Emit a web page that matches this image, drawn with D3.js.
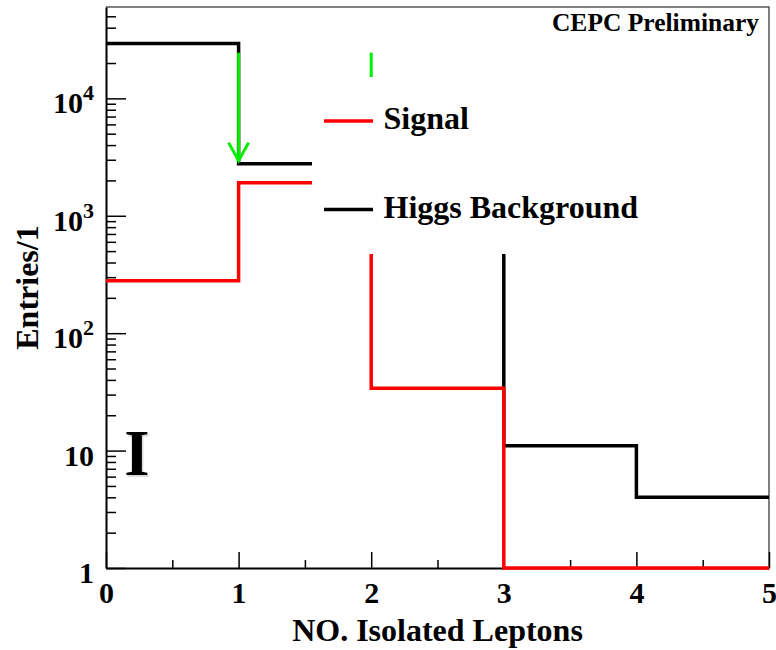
<!DOCTYPE html>
<html>
<head>
<meta charset="utf-8">
<script src="https://cdn.jsdelivr.net/npm/d3@7"></script>
<style>
  body { margin: 0; background: #fff; }
  svg text { font-family: "Liberation Serif", "Times New Roman", serif; font-weight: bold; fill: #000; }
</style>
</head>
<body>
<div id="chart"></div>
<script>
// bin edges along x (number of isolated leptons)
const binEdges = [0, 1, 2, 3, 4, 5];
// entries per bin
const signal = [280, 1915, 34, 0, 0];
const higgsBkg = [29300, 2780, 1000, 11, 4];
// cut arrows: x position, start and end values
const cutArrows = [
  { x: 1, from: 24500, to: 2780 },
  { x: 2, from: 24500, to: 1000 }
];
const xTicks = [0, 1, 2, 3, 4, 5];
const xMinor = [0.5, 1.5, 2.5, 3.5, 4.5];
const yMajor = [1, 10, 100, 1000, 10000];
const yLabels = [["1", ""], ["10", ""], ["10", "2"], ["10", "3"], ["10", "4"]];

const width = 776,
    height = 650,
    margin = { top: 7, right: 7, bottom: 82, left: 106 };

const yMin = 1, yMax = 60000;

const x = d3.scaleLinear()
    .domain([0, 5])
    .range([margin.left, width - margin.right]);

const y = d3.scaleLog()
    .domain([yMin, yMax])
    .range([height - margin.bottom, margin.top]);

const svg = d3.select("#chart")
    .append("svg")
    .attr("width", width)
    .attr("height", height);

// frame (top and right)
svg.append("path")
    .attr("d", `M${x(0)},${y(yMax)}H${x(5)}V${y(yMin)}`)
    .attr("fill", "none")
    .attr("stroke", "#555")
    .attr("stroke-width", 1.5);

// minor y ticks
const yMinorVals = [];
for (let d = 1; d < yMax; d *= 10) {
  for (let k = 2; k <= 9; k++) if (d * k < yMax) yMinorVals.push(d * k);
}

svg.append("g")
    .attr("transform", `translate(${x(0)},0)`)
    .call(d3.axisLeft(y).tickValues(yMinorVals).tickSize(-10).tickSizeOuter(0).tickFormat(""))
    .call(g => g.select(".domain").remove());

const yAxis = svg.append("g")
    .attr("transform", `translate(${x(0)},0)`)
    .call(d3.axisLeft(y).tickValues(yMajor).tickSize(-20).tickSizeOuter(0).tickPadding(12).tickFormat(""));

yAxis.select(".domain").attr("stroke-width", 2);

yAxis.selectAll(".tick text")
    .attr("dy", null)
    .attr("y", 14.5)
    .attr("font-size", 30)
    .each(function (d, i) {
      const t = d3.select(this);
      t.append("tspan").text(yLabels[i][0]);
      if (yLabels[i][1]) {
        t.append("tspan").attr("font-size", 22).attr("dy", -13).text(yLabels[i][1]);
      }
    });

svg.append("g")
    .attr("transform", `translate(0,${y(yMin)})`)
    .call(d3.axisBottom(x).tickValues(xMinor).tickSize(-8).tickSizeOuter(0).tickFormat(""))
    .call(g => g.select(".domain").remove());

const xAxis = svg.append("g")
    .attr("transform", `translate(0,${y(yMin)})`)
    .call(d3.axisBottom(x).tickValues(xTicks).tickSize(-16).tickSizeOuter(0).tickPadding(0).tickFormat(d3.format("d")));

xAxis.select(".domain").attr("stroke-width", 2);
xAxis.selectAll(".tick text")
    .attr("dy", null)
    .attr("y", 35)
    .attr("font-size", 30);

svg.selectAll(".tick line").attr("stroke-width", 1.5);
svg.selectAll(".tick text").attr("font-family", null).attr("fill", null);

// step histograms
function stepPath(values) {
  const pts = [];
  values.forEach((v, i) => {
    const yy = y(Math.max(v, yMin));
    pts.push([x(binEdges[i]), yy], [x(binEdges[i + 1]), yy]);
  });
  return d3.line()(pts);
}

svg.append("path")
    .attr("d", stepPath(higgsBkg))
    .attr("fill", "none")
    .attr("stroke", "#000")
    .attr("stroke-width", 3.5);

svg.append("path")
    .attr("d", stepPath(signal))
    .attr("fill", "none")
    .attr("stroke", "#ff0000")
    .attr("stroke-width", 3.5);

// cut arrows
const arrows = svg.selectAll(".cut")
    .data(cutArrows)
    .join("g")
    .attr("class", "cut")
    .attr("fill", "none")
    .attr("stroke", "#00ee00")
    .attr("stroke-width", 3);

arrows.append("line")
    .attr("x1", d => x(d.x)).attr("x2", d => x(d.x))
    .attr("y1", d => y(d.from)).attr("y2", d => y(d.to) - 3);

arrows.append("path")
    .attr("d", d => {
      const tx = x(d.x), ty = y(d.to) - 3;
      return `M${tx - 10},${ty - 18}L${tx},${ty}L${tx + 10},${ty - 18}`;
    });

// legend box (white, no border) covering part of the plot
svg.append("rect")
    .attr("x", 312)
    .attr("y", 77)
    .attr("width", 390)
    .attr("height", 177)
    .attr("fill", "#fff");

const legendItems = [
  { label: "Signal", color: "#ff0000" },
  { label: "Higgs Background", color: "#000" }
];

const legend = svg.selectAll(".legend")
    .data(legendItems)
    .join("g")
    .attr("class", "legend")
    .attr("transform", (d, i) => `translate(324,${121 + i * 88.5})`);

legend.append("line")
    .attr("x1", 0).attr("x2", 49)
    .attr("stroke", d => d.color)
    .attr("stroke-width", 3.5);

legend.append("text")
    .attr("x", 59.5)
    .attr("y", 8)
    .attr("font-size", 32)
    .text(d => d.label);

// labels
svg.append("text")
    .attr("x", 759)
    .attr("y", 30.5)
    .attr("text-anchor", "end")
    .attr("font-size", 25.5)
    .text("CEPC Preliminary");

svg.append("text")
    .attr("x", 137 + 1.5)
    .attr("y", 475 + 1.5)
    .attr("text-anchor", "middle")
    .attr("font-size", 65)
    .style("fill", "#bbb")
    .style("opacity", 0.5)
    .text("I");

svg.append("text")
    .attr("x", 137)
    .attr("y", 475)
    .attr("text-anchor", "middle")
    .attr("font-size", 65)
    .text("I");

svg.append("text")
    .attr("x", (x(0) + x(5)) / 2)
    .attr("y", 641)
    .attr("text-anchor", "middle")
    .attr("font-size", 32)
    .text("NO. Isolated Leptons");

svg.append("text")
    .attr("transform", `translate(38,${(y(yMin) + y(yMax)) / 2}) rotate(-90)`)
    .attr("text-anchor", "middle")
    .attr("font-size", 32)
    .text("Entries/1");
</script>
</body>
</html>
